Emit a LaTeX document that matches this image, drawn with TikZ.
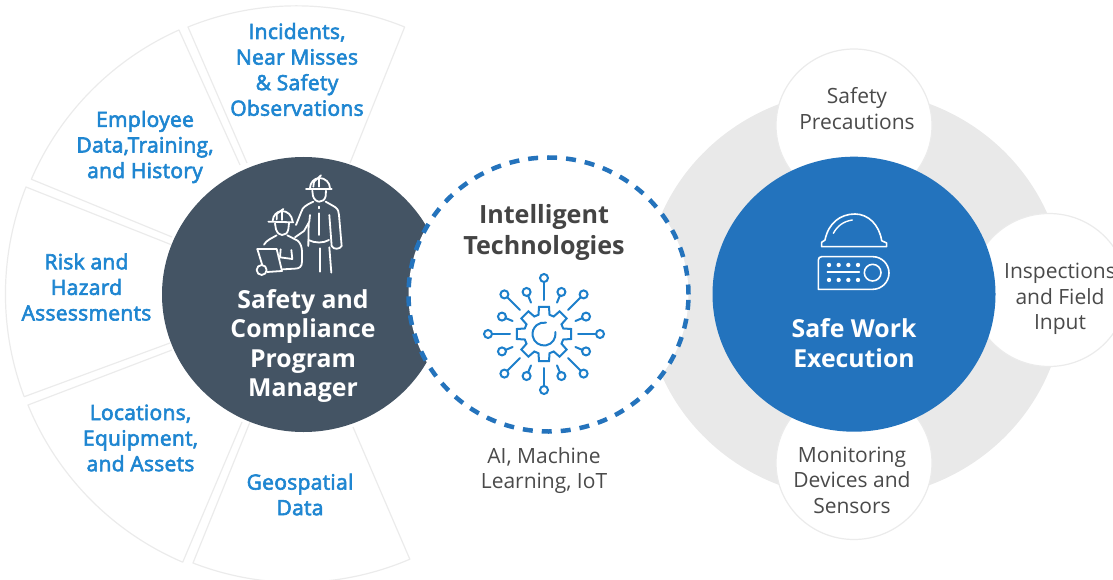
\documentclass[tikz,border=0pt]{standalone}
\usetikzlibrary{shapes.geometric}
\usepackage{fontspec}
\setmainfont{Open Sans}
\newfontfamily\osb{Open Sans}[FakeBold=3,LetterSpace=1.4]
\definecolor{wedgeline}{HTML}{EBEBEB}
\definecolor{discgray}{HTML}{E9E9E9}
\definecolor{wedgetext}{HTML}{1F86D1}
\definecolor{slate}{HTML}{445464}
\definecolor{bluefill}{HTML}{2373BD}
\definecolor{bodytext}{HTML}{4A4A4A}
\definecolor{headtext}{HTML}{444444}
\definecolor{dashblue}{HTML}{2473BC}
\definecolor{gearblue}{HTML}{1C7FCB}
\tikzset{
  wedge/.style={draw=wedgeline,line width=1.2pt,line join=round},
  walllabel/.style={align=center,text=wedgetext,font=\osb\fontsize{21}{25.6}\selectfont},
  hublabel/.style={align=center,text=white,font=\bfseries\fontsize{24.8}{29.5}\selectfont},
  satlabel/.style={align=center,text=bodytext,font=\fontsize{21}{25.6}\selectfont},
  sat/.style={ellipse,draw=wedgeline,line width=1.2pt,fill=white,minimum width=156pt,minimum height=153pt,inner sep=0pt},
  iconw/.style={draw=white,line width=1.8pt,line cap=round,line join=round},
  icong/.style={draw=gearblue,line width=2pt,line cap=round,line join=miter},
}
\begin{document}
\begin{tikzpicture}[x=1pt,y=-1pt]
\useasboundingbox (0,0) rectangle (1113,580);
% wedges (angles are in image orientation)
\draw[wedge] (247,163) -- (188,27) arc[start angle=-112.1,end angle=-67.9,radius=288] -- (350,163);
\draw[wedge] (240,165) -- (179,30) arc[start angle=-114,end angle=-156.6,radius=289] -- (172,237);
\draw[wedge] (172,245) -- (26,187) arc[start angle=-158.3,end angle=-200.7,radius=290] -- (170,343);
\draw[wedge] (172,350) -- (28,405) arc[start angle=-202.2,end angle=-246.9,radius=290] -- (242,422);
\draw[wedge] (250,422) -- (193,563) arc[start angle=-248.8,end angle=-293.2,radius=287] -- (353,427);
% right disc
\node[ellipse,fill=discgray,minimum width=420pt,minimum height=408pt,inner sep=0pt] (disc) at (854.5,294.5) {};
\node[sat] (sat1) at (854,125.5) {};
\node[sat] (sat2) at (1049,290) {};
\node[sat] (sat3) at (854,463) {};
\node[ellipse,fill=bluefill,minimum width=283pt,minimum height=275pt,inner sep=0pt] (exec) at (854,294.2) {};
% left hub
\node[ellipse,fill=slate,minimum width=283pt,minimum height=275pt,inner sep=0pt] (hub) at (303.5,294.5) {};
% centre
\node[ellipse,fill=white,draw=dashblue,line width=4.5pt,dash pattern=on 10pt off 9pt,minimum width=280pt,minimum height=274pt,inner sep=0pt] (tech) at (548.5,294.5) {};
% wedge labels
\node[walllabel] (w1) at (297,69.5) {Incidents,\\Near Misses\\\& Safety\\Observations};
\node[walllabel] (w2) at (145,147) {Employee\\Data,Training,\\and History};
\node[walllabel] (w3) at (86.5,287) {Risk and\\Hazard\\Assessments};
\node[walllabel] (w4) at (140.5,438) {Locations,\\Equipment,\\and Assets};
\node[walllabel] (w5) at (300,494.5) {Geospatial\\Data};
% hub labels
\node[hublabel] (hubt) at (303,346) {Safety and\\Compliance\\Program\\Manager};
\node[hublabel] (exect) at (854,343) {Safe Work\\Execution};
\node[align=center,text=headtext,font=\bfseries\fontsize{25.1}{31}\selectfont] (techt) at (544,232.5) {Intelligent\\Technologies};
\node[satlabel] (techs) at (544,470.5) {AI, Machine\\Learning, IoT};
\node[satlabel] (s1) at (857,108.5) {Safety\\Precautions};
\node[satlabel] (s2) at (1060,299) {Inspections\\and Field\\Input};
\node[satlabel] (s3) at (852,480) {Monitoring\\Devices and\\Sensors};
% gear icon
\begin{scope}[shift={(544,334)}]
\draw[icong] (-16:20) -- (-10.5:27.5) -- (10.5:27.5) -- (16:20)
 -- (29:20) -- (34.5:27.5) -- (55.5:27.5) -- (61:20)
 -- (74:20) -- (79.5:27.5) -- (100.5:27.5) -- (106:20)
 -- (119:20) -- (124.5:27.5) -- (145.5:27.5) -- (151:20)
 -- (164:20) -- (169.5:27.5) -- (190.5:27.5) -- (196:20)
 -- (209:20) -- (214.5:27.5) -- (235.5:27.5) -- (241:20)
 -- (254:20) -- (259.5:27.5) -- (280.5:27.5) -- (286:20)
 -- (299:20) -- (304.5:27.5) -- (325.5:27.5) -- (331:20) -- cycle;
\draw[icong] (-10:11.5) arc[start angle=-10,end angle=280,radius=11.5];
\foreach \a in {0,45,...,315} {
  \draw[icong] (\a:34) -- (\a:52);
  \draw[icong] (\a:56) circle[radius=4];
}
\foreach \a in {22.5,67.5,...,337.5} {
  \draw[icong] (\a:34) -- (\a:41.5);
  \draw[icong] (\a:45.5) circle[radius=4];
}
\end{scope}
% helmet and device icon
\begin{scope}[shift={(800,200)},x=0.3333pt,y=-0.3333pt]
\draw[iconw,line width=1.6pt] (65,140) -- (65,127) -- (75,120) .. controls (85,70) and (120,42) .. (165,42) .. controls (205,42) and (238,75) .. (245,122) -- (260,129) -- (260,140) -- cycle;
\draw[iconw,line width=1.4pt] (100,100) .. controls (112,78) and (130,64) .. (157,60);
\draw[iconw,line width=1.6pt] (65,170) -- (218,170) arc[start angle=-90,end angle=90,radius=49] -- (55,268) -- (55,180) .. controls (55,174) and (59,170) .. (65,170) -- cycle;
\draw[iconw,line width=1.6pt] (218,218) circle[radius=25];
\draw[iconw,line width=1.4pt] (82,216) -- (178,216);
\foreach \X in {87,116,145,174} {
  \fill[white] (\X,195) circle[radius=6.5];
  \fill[white] (\X,240) circle[radius=6.5];
}
\end{scope}
% workers icon
\begin{scope}[shift={(230,160)},x=0.3333pt,y=-0.3333pt]
\draw[iconw] (228,87) -- (305,87);
\draw[iconw] (240,85) .. controls (240,68) and (252,55) .. (268,54) .. controls (286,54) and (300,68) .. (300,85);
\draw[iconw] (250,80) -- (252,65) -- (273,46);
\draw[iconw] (266,80) -- (266,58);
\draw[iconw] (247,92) -- (249,108) .. controls (252,120) and (262,125) .. (268,125) .. controls (276,125) and (285,120) .. (287,108) -- (288,92);
\draw[iconw] (198,195) -- (214,155) .. controls (218,142) and (228,135) .. (250,125);
\draw[iconw] (287,125) -- (315,141) .. controls (325,148) and (326,155) .. (327,165) -- (335,258) .. controls (330,268) and (310,270) .. (305,258) -- (298,165);
\draw[iconw] (268,140) -- (268,145);
\draw[iconw] (268,160) -- (268,225);
\draw[iconw] (195,232) -- (222,213) -- (238,185) -- (240,165);
\draw[iconw] (236,190) -- (235,258);
\draw[iconw] (235,240) .. controls (255,250) and (280,250) .. (297,240);
\draw[iconw] (270,265) -- (270,335);
\draw[iconw] (298,262) -- (304,338);
\draw[iconw] (115,185) -- (190,187);
\draw[iconw] (128,182) .. controls (130,165) and (140,155) .. (155,153) .. controls (172,153) and (186,165) .. (188,185);
\draw[iconw] (140,178) -- (140,162) -- (160,147);
\draw[iconw] (156,180) -- (156,156);
\draw[iconw] (135,190) -- (138,208) .. controls (142,220) and (150,225) .. (156,225) .. controls (165,225) and (173,220) .. (175,208) -- (177,190);
\draw[iconw] (102,254) .. controls (110,240) and (125,235) .. (140,226);
\draw[iconw] (172,226) -- (203,242) .. controls (212,250) and (216,262) .. (216,275) -- (216,305) .. controls (216,320) and (208,326) .. (195,326) -- (158,328);
\draw[iconw] (82,267) -- (140,267) -- (156,333) -- (112,336);
\draw[iconw] (82,267) -- (97,316);
\draw[iconw] (95,330) circle[radius=15];
\draw[iconw] (152,268) -- (150,292) -- (187,297) -- (184,270);
\end{scope}
\end{tikzpicture}
\end{document}
